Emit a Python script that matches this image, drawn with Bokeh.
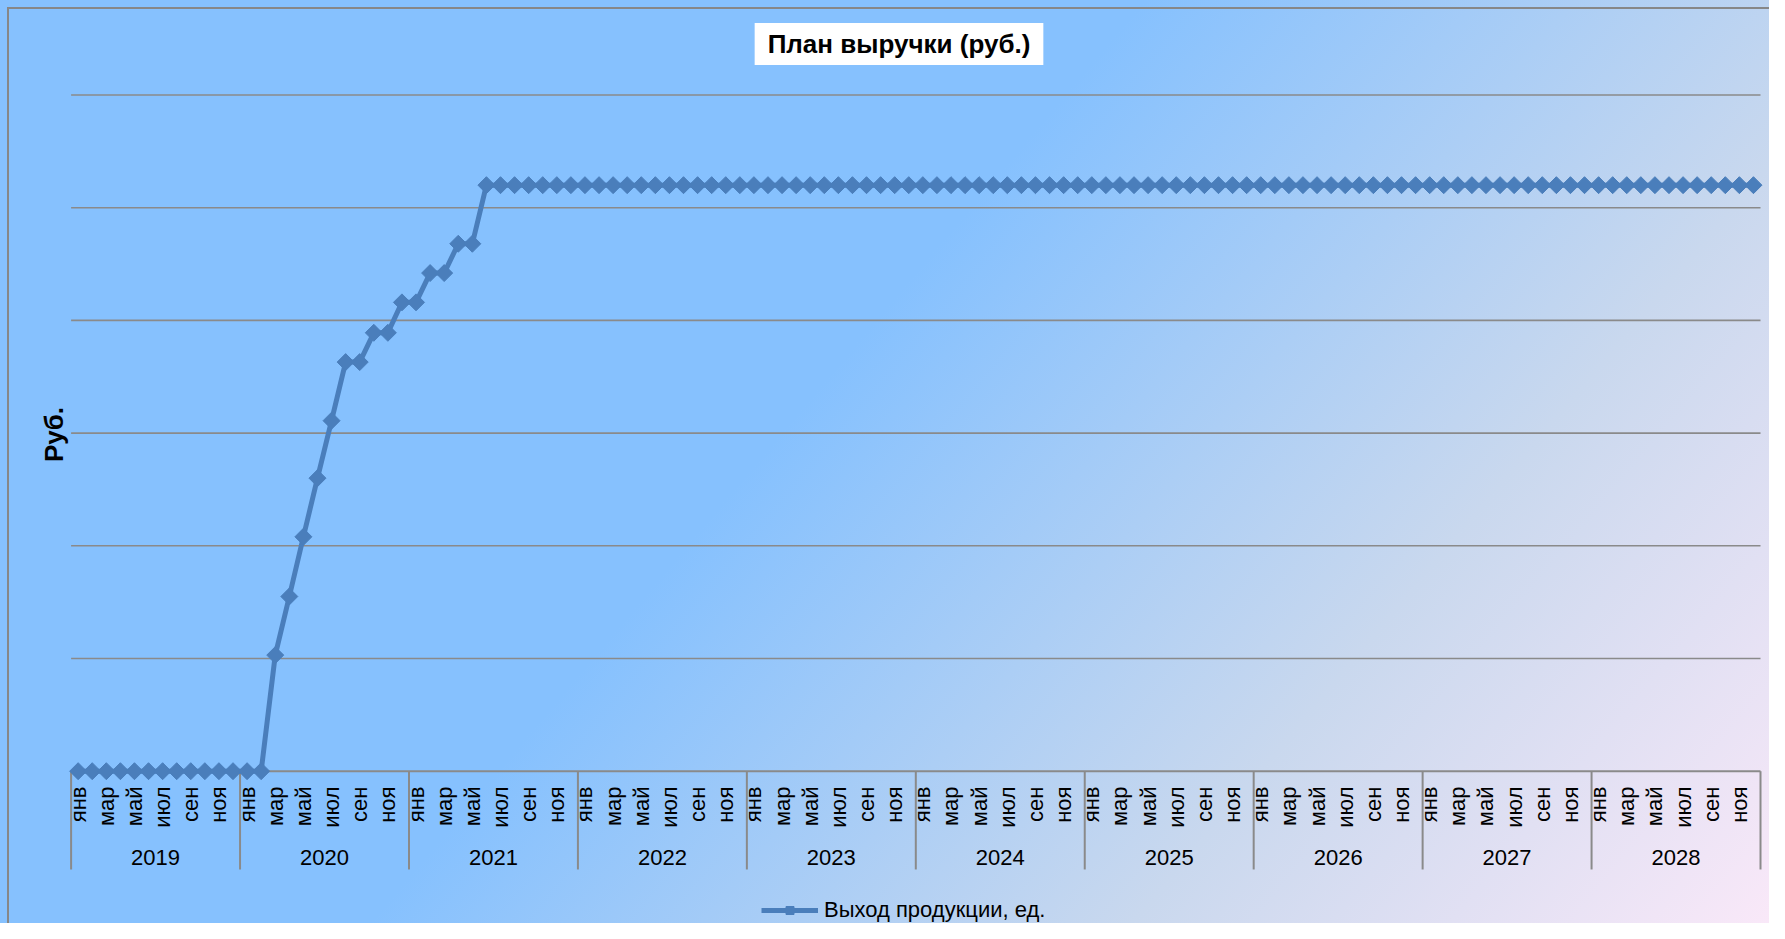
import math
from bokeh.plotting import figure
from bokeh.models import Label, Legend, LegendItem, Range1d
from bokeh.core.properties import value
from bokeh.embed import file_html
from bokeh.resources import INLINE

# ---------------- data ----------------
years = ["2019", "2020", "2021", "2022", "2023", "2024", "2025", "2026", "2027", "2028"]
months = ["янв", "фев", "мар", "апр", "май", "июн", "июл", "авг", "сен", "окт", "ноя", "дек"]

rev_2019 = [0, 0, 0, 0, 0, 0, 0, 0, 0, 0, 0, 0]
rev_2020 = [0, 0, 1.03, 1.55, 2.08, 2.60, 3.11, 3.63, 3.63, 3.89, 3.89, 4.16]
rev_2021 = [4.16, 4.42, 4.42, 4.68, 4.68, 5.2, 5.2, 5.2, 5.2, 5.2, 5.2, 5.2]
rev_2022 = [5.2, 5.2, 5.2, 5.2, 5.2, 5.2, 5.2, 5.2, 5.2, 5.2, 5.2, 5.2]
rev_2023 = [5.2, 5.2, 5.2, 5.2, 5.2, 5.2, 5.2, 5.2, 5.2, 5.2, 5.2, 5.2]
rev_2024 = [5.2, 5.2, 5.2, 5.2, 5.2, 5.2, 5.2, 5.2, 5.2, 5.2, 5.2, 5.2]
rev_2025 = [5.2, 5.2, 5.2, 5.2, 5.2, 5.2, 5.2, 5.2, 5.2, 5.2, 5.2, 5.2]
rev_2026 = [5.2, 5.2, 5.2, 5.2, 5.2, 5.2, 5.2, 5.2, 5.2, 5.2, 5.2, 5.2]
rev_2027 = [5.2, 5.2, 5.2, 5.2, 5.2, 5.2, 5.2, 5.2, 5.2, 5.2, 5.2, 5.2]
rev_2028 = [5.2, 5.2, 5.2, 5.2, 5.2, 5.2, 5.2, 5.2, 5.2, 5.2, 5.2, 5.2]

grid_values = [1, 2, 3, 4, 5, 6]
series_name = "Выход продукции, ед."
title_text = "План выручки (руб.)"
y_label = "Руб."

# ---------------- build ----------------
values = (rev_2019 + rev_2020 + rev_2021 + rev_2022 + rev_2023 +
          rev_2024 + rev_2025 + rev_2026 + rev_2027 + rev_2028)
n = len(values)
xs = list(range(n))
nm = len(months)

FONT_NAME = "Liberation Sans"
FONT = value(FONT_NAME)
SERIES = "#4A7EBB"
GRID = "#8A8A8A"

W, H = 1769, 923
p = figure(width=W, height=H, output_backend="svg", toolbar_location=None,
           x_axis_location=None, y_axis_location=None, title=None, tools="",
           x_range=Range1d(-5.515, 120.139), y_range=Range1d(-1.3514, 6.8385),
           min_border=0)
p.xgrid.visible = False
p.ygrid.visible = False
p.outline_line_color = None
p.background_fill_alpha = 0
p.border_fill_alpha = 0
p.styles = {
    "background": (
        "linear-gradient(#878787, #878787) 7px 7px / 2px 100% no-repeat, "
        "linear-gradient(#878787, #878787) 7px 7px / 100% 2px no-repeat, "
        "linear-gradient(130deg, #86C1FE 0%, #86C1FE 45%, #C9D8EE 75%, #F9E8F8 100%)"
    ),
}

x_lo, x_hi = -0.5, n - 0.5
# horizontal gridlines
p.segment(x0=x_lo, y0=grid_values, x1=x_hi, y1=grid_values,
          line_color=GRID, line_width=1.6)
# category axis line
p.segment(x0=x_lo, y0=0, x1=x_hi, y1=0, line_color=GRID, line_width=2)
# year separators
SEP_BOTTOM = -0.872
sep_x = [i * nm - 0.5 for i in range(len(years) + 1)]
p.segment(x0=sep_x, y0=0, x1=sep_x, y1=SEP_BOTTOM, line_color=GRID, line_width=2)

# month labels (every second month)
lab_x = [i for i in xs if i % 2 == 0]
lab_t = [months[i % nm] for i in lab_x]
p.text(x=lab_x, y=-0.136, text=lab_t, angle=math.pi / 2,
       text_align="right", text_baseline="middle",
       text_font=FONT, text_font_size=value("22px"), text_color="black")
# year labels
yr_x = [i * nm + (nm - 1) / 2 for i in range(len(years))]
p.text(x=yr_x, y=-0.766, text=years, text_align="center", text_baseline="middle",
       text_font=FONT, text_font_size=value("22px"), text_color="black")

# series
line_r = p.line(xs, values, line_color=SERIES, line_width=5, line_join="round")
sc_r = p.scatter(xs, values, marker="square", size=12, angle=math.pi / 4,
                 fill_color=SERIES, line_color=SERIES)

# title
p.add_layout(Label(x=898.5, y=H - 43.5, x_units="screen", y_units="screen",
                   text=title_text, text_align="center", text_baseline="middle",
                   text_font=FONT_NAME, text_font_size="26px", text_font_style="bold",
                   text_color="black", background_fill_color="white",
                   padding={"left": 13, "right": 13, "top": 6, "bottom": 6}))
# y axis label
p.add_layout(Label(x=53, y=H - 434, x_units="screen", y_units="screen",
                   text=y_label, angle=math.pi / 2, text_align="center",
                   text_baseline="middle", text_font=FONT_NAME, text_font_size="26px",
                   text_font_style="bold", text_color="black"))

legend = Legend(items=[LegendItem(label=series_name, renderers=[line_r, sc_r])],
                location=(761, 0), padding=0, margin=0, spacing=0,
                glyph_width=57, glyph_height=20, label_standoff=6,
                label_text_font=FONT_NAME, label_text_font_size="22px",
                label_text_color="black",
                border_line_alpha=0, background_fill_alpha=0)
p.add_layout(legend)

open("out.html", "w").write(file_html(p, INLINE))
